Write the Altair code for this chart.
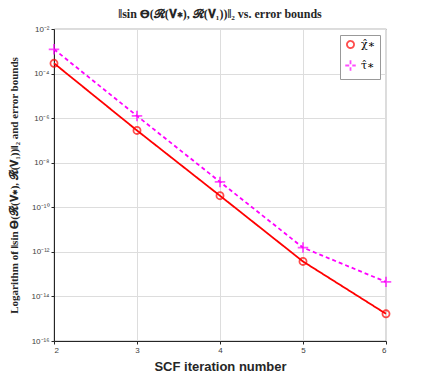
import altair as alt
import pandas as pd
import math

iterations = [2, 3, 4, 5, 6]
chi_vals = [2.9e-4, 2.8e-7, 3.3e-10, 3.7e-13, 1.66e-15]
tau_vals = [1.23e-3, 1.26e-6, 1.38e-9, 1.55e-12, 4.5e-14]
series_names = ["χ̂∗", "τ̂∗"]
y_ticks = [1e-2, 1e-4, 1e-6, 1e-8, 1e-10, 1e-12, 1e-14, 1e-16]

sup = str.maketrans("-0123456789", "⁻⁰¹²³⁴⁵⁶⁷⁸⁹")
expr = "''"
for t in y_ticks:
    e = round(math.log10(t))
    expr = f"(round(log(datum.value)/LN10) == {e} ? '10{str(e).translate(sup)}' : {expr})"

rows = []
for name, vals in zip(series_names, [chi_vals, tau_vals]):
    for i, v in zip(iterations, vals):
        rows.append({"iter": i, "val": v, "series": name})
df = pd.DataFrame(rows)

colors = ["#FF0000", "#FF00FF"]
x = alt.X("iter:Q", scale=alt.Scale(domain=[2, 6], nice=False),
          axis=alt.Axis(values=iterations, format="d", title="SCF iteration number",
                        labelFontSize=8, labelColor="#404040", titleFontSize=13,
                        titleFont="Liberation Sans", titleFontWeight="bold",
                        titleColor="#262626", tickSize=3, domainColor="#262626",
                        tickColor="#262626", titlePadding=6))
y = alt.Y("val:Q", scale=alt.Scale(type="log", domain=[1e-16, 1e-2], nice=False),
          axis=alt.Axis(values=y_ticks, labelExpr=expr, labelFontSize=8,
                        labelColor="#404040",
                        title="Logarithm of ‖sin 𝚯(𝓡(𝐕∗), 𝓡(𝐕₁))‖₂ and error bounds",
                        titleFont="Liberation Serif", titleFontWeight="bold",
                        titleFontSize=11, titleColor="#262626", tickSize=3,
                        domainColor="#262626", tickColor="#262626", titlePadding=12,
                        labelPadding=2))
color = alt.Color("series:N", scale=alt.Scale(domain=series_names, range=colors),
                  legend=alt.Legend(title=None, orient="top-right", offset=6,
                                    strokeColor="#999999", fillColor="white",
                                    padding=4, labelFontSize=11,
                                    labelFont="DejaVu Serif", symbolSize=60,
                                    symbolStrokeWidth=1.8, rowPadding=4))
dash = alt.StrokeDash("series:N", scale=alt.Scale(domain=series_names, range=[[1, 0], [4, 3]]),
                      legend=None)
shape = alt.Shape("series:N", scale=alt.Scale(domain=series_names,
                                               range=["circle", "M-1,0L1,0M0,-1L0,1"]),
                  legend=None)
size = alt.Size("series:N", scale=alt.Scale(domain=series_names, range=[50, 110]),
                legend=None)

lines = alt.Chart(df).mark_line(strokeWidth=1.8).encode(x=x, y=y, color=color, strokeDash=dash)
points = alt.Chart(df).mark_point(filled=False, strokeWidth=1.8).encode(
    x=x, y=y, color=color, shape=shape, size=size)

chart = alt.layer(lines, points).properties(
    width=332, height=312,
    title=alt.TitleParams("‖sin 𝚯(𝓡(𝐕∗), 𝓡(𝐕₁))‖₂ vs. error bounds",
                          font="Liberation Serif", fontSize=12, fontWeight="bold",
                          color="#262626", offset=4),
    padding={"left": 0, "top": 0, "right": 5, "bottom": 5},
).configure_view(stroke="#262626", strokeWidth=0.8)

chart.save("out.html", embed_options={"renderer": "svg", "actions": False})
